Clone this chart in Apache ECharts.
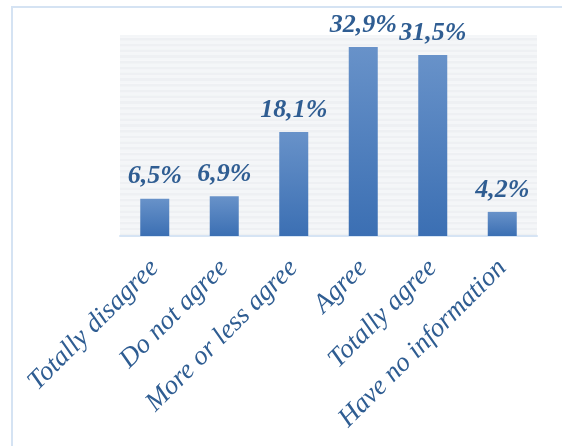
<!DOCTYPE html>
<html>
<head>
<meta charset="utf-8">
<script src="https://cdn.jsdelivr.net/npm/echarts@6/dist/echarts.min.js"></script>
<style>
  html, body { margin: 0; padding: 0; background: #ffffff; }
  #frame {
    position: absolute; left: 11px; top: 6px; width: 560px; height: 450px;
    border-left: 2px solid #d5e3f3; border-top: 2px solid #d5e3f3;
  }
  #chart { position: absolute; left: 0; top: 0; width: 562px; height: 446px; }
</style>
</head>
<body>
<div id="frame"></div>
<div id="chart"></div>
<script>
// Survey answers and their shares (%)
const categories = ['Totally disagree', 'Do not agree', 'More or less agree', 'Agree', 'Totally agree', 'Have no information'];
const shares = [6.5, 6.9, 18.1, 32.9, 31.5, 4.2];

const textBlue = '#2f5d92';
const serif = '"Liberation Serif", "Times New Roman", serif';

const chart = echarts.init(document.getElementById('chart'), null, { renderer: 'canvas' });
chart.setOption({
  animation: false,
  grid: { left: 120, right: 25, top: 35, bottom: 210 },
  xAxis: {
    type: 'category',
    data: categories,
    axisLine: { show: true, lineStyle: { color: '#d6e4f4', width: 2 } },
    axisTick: { show: false },
    axisLabel: {
      interval: 0,
      rotate: 45,
      margin: 28,
      color: textBlue,
      fontFamily: serif,
      fontStyle: 'italic',
      fontSize: 27
    }
  },
  yAxis: {
    type: 'value',
    min: 0,
    max: 35,
    interval: 0.5,
    axisLabel: { show: false },
    axisLine: { show: false },
    axisTick: { show: false },
    splitLine: { show: false },
    splitArea: { show: true, areaStyle: { color: ['#eef0f3', '#f4f6f8'] } }
  },
  series: [{
    type: 'bar',
    data: shares,
    barWidth: 29,
    itemStyle: {
      color: new echarts.graphic.LinearGradient(0, 0, 0, 1, [
        { offset: 0, color: '#6892c9' },
        { offset: 1, color: '#3b6fb3' }
      ])
    },
    label: {
      show: true,
      position: 'top',
      distance: 9,
      color: textBlue,
      fontFamily: serif,
      fontStyle: 'italic',
      fontWeight: 'bold',
      fontSize: 26,
      formatter: p => p.value.toFixed(1).replace('.', ',') + '%'
    }
  }]
});
</script>
</body>
</html>
